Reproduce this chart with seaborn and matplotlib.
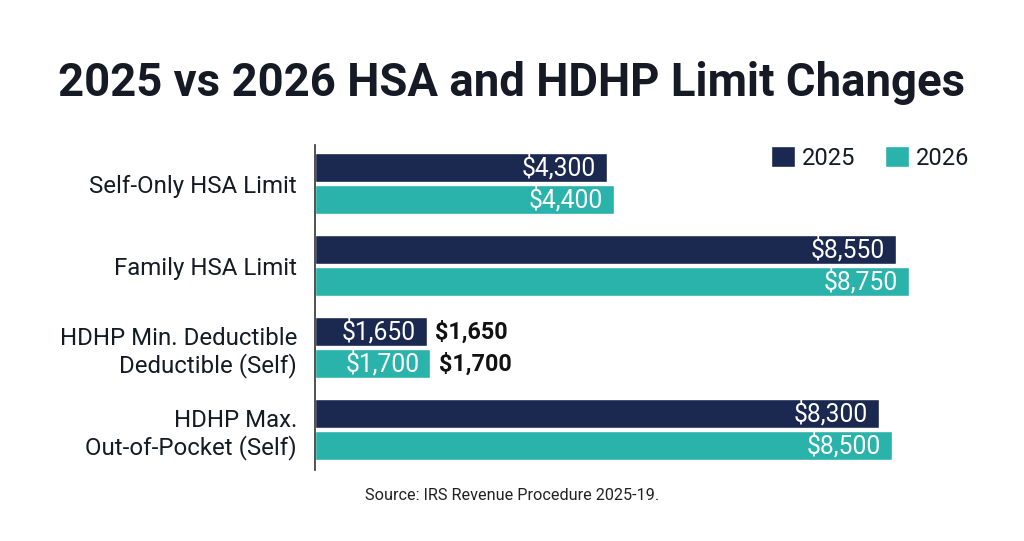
import matplotlib
matplotlib.use("Agg")
import matplotlib.pyplot as plt
import seaborn as sns
import pandas as pd

categories = ["Self-Only HSA Limit", "Family HSA Limit",
              "HDHP Min. Deductible\nDeductible (Self)",
              "HDHP Max.\nOut-of-Pocket (Self)"]
values_2025 = [4300, 8550, 1650, 8300]
values_2026 = [4400, 8750, 1700, 8500]
years = ["2025", "2026"]
colors = ["#1b2950", "#2ab3aa"]

df = pd.DataFrame({
    "category": categories * 2,
    "value": values_2025 + values_2026,
    "year": [years[0]] * 4 + [years[1]] * 4,
})

sns.set_theme(style="white")
plt.rcParams["font.family"] = ["Roboto", "DejaVu Sans"]

fig = plt.figure(figsize=(10.24, 5.41), dpi=100)
ax = fig.add_axes([0.3076, 0.1312, 0.6700, 0.6008])

sns.barplot(data=df, y="category", x="value", hue="year", order=categories,
            hue_order=years, palette=colors, orient="h", width=0.78, gap=0.1,
            ax=ax, saturation=1)

ax.set_xlim(0, 10100)
ax.set_ylim(3.49, -0.47)
ax.set_xlabel("")
ax.set_ylabel("")
ax.set_xticks([])
for s in ["top", "right", "bottom"]:
    ax.spines[s].set_visible(False)
ax.spines["left"].set_color("#333333")
ax.spines["left"].set_linewidth(1.2)
ax.tick_params(axis="y", length=0, pad=13, labelsize=17.3, labelcolor="#151a24")

for cont in ax.containers:
    for p in cont.patches:
        w = p.get_width()
        yc = p.get_y() + p.get_height() / 2
        ax.annotate(f"${w:,.0f}", xy=(w, yc), xytext=(-8, 0), textcoords="offset points",
                    ha="right", va="center", color="white", fontsize=17.7)
        if w < 2000:
            ax.annotate(f"${w:,.0f}", xy=(w, yc), xytext=(6, 0), textcoords="offset points",
                        ha="left", va="center", color="#111111", fontsize=16.8,
                        fontweight="bold")

leg = ax.legend(loc="center right", bbox_to_anchor=(0.9675, 0.708), bbox_transform=fig.transFigure,
                ncol=2, frameon=False, fontsize=17, handlelength=1.0, handleheight=1.0,
                handletextpad=0.3, columnspacing=1.27)
for t in leg.get_texts():
    t.set_color("#151a24")

fig.suptitle("2025 vs 2026 HSA and HDHP Limit Changes", x=0.5, y=0.847,
             fontsize=32.8, fontweight="bold", color="#151a24", va="center")
fig.text(0.5, 0.085, "Source: IRS Revenue Procedure 2025-19.", ha="center", va="center",
         fontsize=11.7, color="#222222")

fig.savefig("out.png", dpi=100, facecolor="white")
